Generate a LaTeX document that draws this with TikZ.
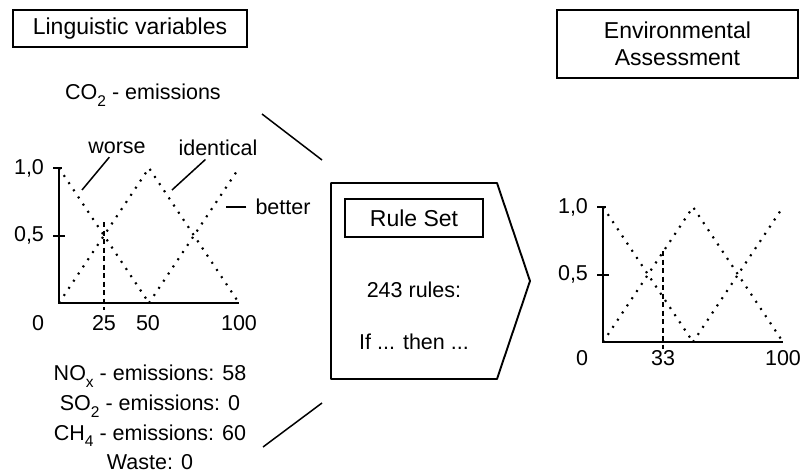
\documentclass[tikz,border=0pt]{standalone}
\usepackage{fontspec}
\setmainfont{Liberation Sans}
\newcommand{\lowidx}[1]{\raisebox{-0.32em}{\fontsize{15.5}{16}\selectfont #1}}
\tikzset{
	axisline/.style={line width=2pt},
	membership/.style={line width=2.1pt, dash pattern=on 2pt off 6.6pt},
	cutline/.style={line width=1.8pt, dash pattern=on 5pt off 3.5pt},
	leader/.style={line width=1.5pt},
	frame/.style={line width=1.9pt, line join=round},
	titlebox/.style={draw, line width=1.7pt, font=\fontsize{23}{27}\selectfont},
	pics/fuzzy/.style n args={3}{
		code = {
			\draw[membership] (0,-135) -- (90,0);
			\draw[membership] (0,0) -- (90,-135) -- (180,0);
			\draw[membership] (90,0) -- (180,-135);
			\draw[cutline] (#1,-#2) -- (#1,7);
			\draw[axisline] (0,-135) -- (0,0) -- (180,0);
			\draw[axisline] (-6,-135) -- (3,-135);
			\draw[axisline] (-6,-67.5) -- (6,-67.5);
			\node (-one) at (-30,-135) {1,0};
			\node (-half) at (-30,-67.5) {0,5};
			\node (-zero) at (-21,#3) {0};
			\node (-full) at (180,#3) {100};
		}
	}
}

\begin{document}
\begin{tikzpicture}[x=1pt, y=-1pt, every node/.style={inner sep=0pt}, font=\fontsize{21.5}{26}\selectfont]
	\useasboundingbox (0,0) rectangle (803,476);

	% --- inputs ---
	\node[titlebox, minimum width=234pt, minimum height=37pt] (linguistic) at (130,28.5) {Linguistic variables};
	\node (co2) at (143,95) {CO\lowidx{2} - emissions};

	\pic (co2chart) at (59,303) {fuzzy={45}{81}{20}};
	\node (twentyfive) at (104,323) {25};
	\node (fifty) at (148,323) {50};

	\node (worse) at (117,148) {worse};
	\node (identical) at (218,148) {identical};
	\node (better) at (283,207) {better};
	\coordinate (worse-tip) at (82,190);
	\coordinate (identical-tip) at (172,190);
	\coordinate (better-tip) at (226,207);
	\draw[leader, shorten <=4pt] (worse) -- (worse-tip);
	\draw[leader, shorten <=5pt] (identical) -- (identical-tip);
	\draw[leader, shorten <=9pt] (better) -- (better-tip);

	\node[align=center, font=\fontsize{21.5}{29.7}\selectfont] (inputs) at (150,417.5)
		{NO\lowidx{x} - emissions: 58\\SO\lowidx{2} - emissions: 0\\CH\lowidx{4} - emissions: 60\\Waste: 0};

	% --- rule set ---
	\coordinate (upper-from) at (262,114);
	\coordinate (upper-to) at (322,160);
	\coordinate (lower-from) at (263,447);
	\coordinate (lower-to) at (322,403);
	\draw[leader] (upper-from) -- (upper-to);
	\draw[leader] (lower-from) -- (lower-to);

	\draw[frame] (331,183) -- (497,183) -- (530,281) -- (497,379) -- (331,379) -- cycle;
	\node[titlebox, minimum width=138pt, minimum height=38pt] (ruleset) at (414,218) {Rule Set};
	\node (count) at (414,290) {243 rules:};
	\node (ifthen) at (414,342) {If ... then ...};

	% --- output ---
	\node[titlebox, minimum width=241pt, minimum height=68pt, align=center] (assessment) at (677.5,44) {Environmental\\Assessment};
	\pic (result) at (603,342) {fuzzy={60}{91}{16}};
	\node (thirtythree) at (663,358) {33};
\end{tikzpicture}
\end{document}
